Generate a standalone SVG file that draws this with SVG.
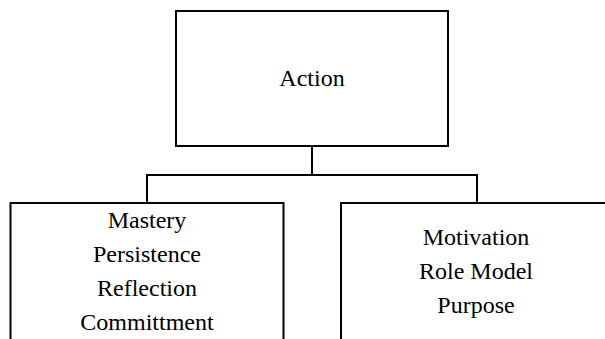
<svg xmlns="http://www.w3.org/2000/svg" width="605" height="339" viewBox="0 0 605 339">
<style>
.box{fill:#fff;stroke:#000;stroke-width:2}
.ln{fill:none;stroke:#000;stroke-width:2}
</style>
<rect width="605" height="339" fill="#fff"/>
<g id="connectors">
<path class="ln" d="M312 146 V175 M147 175 H477 M147 174 V203 M477 174 V203"/>
</g>
<g font-family="Liberation Serif" font-size="24" fill="#000" text-anchor="middle">
<g id="action">
<rect class="box" x="176" y="11" width="272" height="135"/>
<text x="312" y="86">Action</text>
</g>
<g id="left">
<rect class="box" x="10.5" y="203" width="273" height="150"/>
<text x="147" y="228">Mastery</text>
<text x="147" y="262">Persistence</text>
<text x="147" y="296">Reflection</text>
<text x="147" y="330">Committment</text>
</g>
<g id="right">
<rect class="box" x="341" y="203" width="272" height="150"/>
<text x="476" y="245">Motivation</text>
<text x="476" y="279">Role Model</text>
<text x="476" y="313">Purpose</text>
</g>
</g>
</svg>
